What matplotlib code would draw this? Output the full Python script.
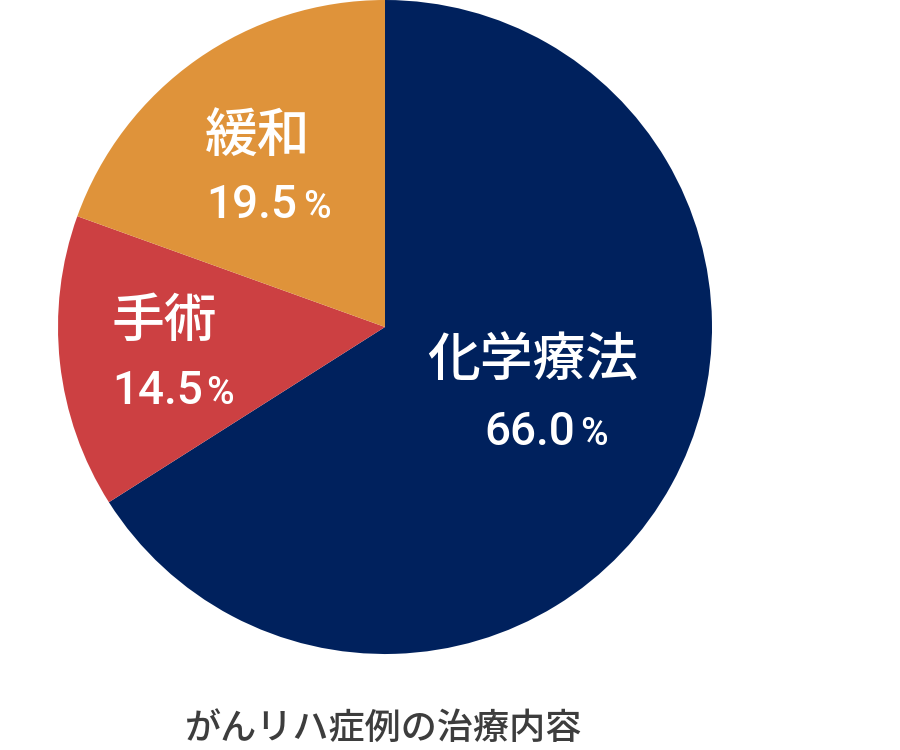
import matplotlib
matplotlib.use("Agg")
import matplotlib.pyplot as plt

# data
labels = ['化学療法', '手術', '緩和']
values = [66.0, 14.5, 19.5]
colors = ['#00215D', '#CC4042', '#DF933A']
title = 'がんリハ症例の治療内容'

plt.rcParams['font.family'] = ['Noto Sans CJK JP', 'DejaVu Sans']

W, H = 900, 750
fig = plt.figure(figsize=(9, 7.5), dpi=100)

# pie centre (385, 327) px, radius 327 px
cx, cy, r = 385, 327, 327
ax = fig.add_axes([(cx - r) / W, (H - cy - r) / H, 2 * r / W, 2 * r / H])
ax.pie(values, colors=colors, startangle=90, counterclock=False,
       wedgeprops=dict(linewidth=0))
ax.set_xlim(-1, 1)
ax.set_ylim(-1, 1)
ax.set_aspect('auto')
ax.axis('off')


def fx(x):
    return x / W


def fy(y):
    return 1 - y / H


# label positions in pixels: name centre, number left/baseline, % left
name_pos = [(533, 362), (164, 322), (258, 138)]
num_pos = [(484, 445), (112, 404), (206, 218)]
pct_x = [580, 206, 303]

for lab, v, (nx, ny), (vx, vy), px in zip(labels, values, name_pos, num_pos, pct_x):
    fig.text(fx(nx), fy(ny), lab, color='white', fontsize=38, weight='medium',
             ha='center', va='center')
    fig.text(fx(vx), fy(vy), f'{v:.1f}', color='white', fontsize=33,
             family='Roboto', weight='medium', ha='left', va='baseline')
    fig.text(fx(px), fy(vy), '%', color='white', fontsize=27,
             family='Roboto', weight='medium', ha='left', va='baseline')

fig.text(fx(384), fy(729), title, color='#3D3D3D', fontsize=26, weight='medium',
         ha='center', va='center')

fig.savefig('out.png', dpi=100, facecolor='white')
